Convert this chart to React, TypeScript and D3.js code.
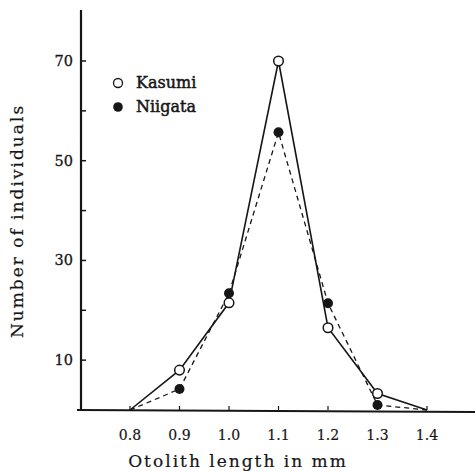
import * as d3 from "d3";

const lengths = [0.8, 0.9, 1.0, 1.1, 1.2, 1.3, 1.4];
const kasumi = [0, 8, 21.5, 70, 16.5, 3.3, 0];
const niigata = [0, 4.2, 23.4, 55.7, 21.4, 1, 0];
const xTickLabels = ["0.8", "0.9", "1.0", "1.1", "1.2", "1.3", "1.4"];
const yTicks = [10, 20, 30, 40, 50, 60, 70];
const yLabelled = [10, 30, 50, 70];

export default function App() {
  const width = 475;
  const height = 471;
  const ink = "#161616";

  const x = d3.scaleLinear().domain([0.8, 1.4]).range([130, 427]);
  const y = d3.scaleLinear().domain([0, 70]).range([410, 61]);

  const line = d3
    .line<number>()
    .x((_, i) => x(lengths[i]))
    .y((d) => y(d));

  const serif = "'DejaVu Serif', 'Liberation Serif', serif";

  return (
    <svg
      width={width}
      height={height}
      style={{ position: "absolute", left: 0, top: 0, background: "#fff" }}
      fontFamily={serif}
    >
      {/* axes */}
      <line x1={81} x2={81} y1={10} y2={y(0)} stroke={ink} strokeWidth={2.2} />
      <line x1={77} x2={475} y1={y(0)} y2={y(0) + 2} stroke={ink} strokeWidth={2.2} />

      {yTicks.map((t) => (
        <g key={t}>
          <line x1={81} x2={86} y1={y(t)} y2={y(t)} stroke={ink} strokeWidth={1.5} />
          {yLabelled.includes(t) && (
            <text x={73} y={y(t) + 5} textAnchor="end" fontSize={14.5} fill={ink} stroke={ink} strokeWidth={0.3}>
              {t}
            </text>
          )}
        </g>
      ))}

      {lengths.map((l, i) => (
        <g key={l}>
          <line x1={x(l)} x2={x(l)} y1={y(0)} y2={y(0) - 4} stroke={ink} strokeWidth={1.2} />
          <text x={x(l)} y={440} textAnchor="middle" fontSize={14} fill={ink} stroke={ink} strokeWidth={0.2}>
            {xTickLabels[i]}
          </text>
        </g>
      ))}

      {/* series */}
      <path d={line(niigata) ?? ""} fill="none" stroke={ink} strokeWidth={1.3} strokeDasharray="5,4" />
      <path d={line(kasumi) ?? ""} fill="none" stroke={ink} strokeWidth={1.6} />

      {niigata.map((v, i) =>
        i === 0 || i === lengths.length - 1 ? null : (
          <circle key={"n" + i} cx={x(lengths[i])} cy={y(v)} r={5} fill={ink} />
        )
      )}
      {kasumi.map((v, i) =>
        i === 0 || i === lengths.length - 1 ? null : (
          <circle key={"k" + i} cx={x(lengths[i])} cy={y(v)} r={4.8} fill="#fff" stroke={ink} strokeWidth={1.5} />
        )
      )}

      {/* legend */}
      <circle cx={118} cy={83} r={4.5} fill="#fff" stroke={ink} strokeWidth={1.3} />
      <text x={136} y={88} fontSize={16} fill={ink} stroke={ink} strokeWidth={0.5}>Kasumi</text>
      <circle cx={118} cy={107} r={4.8} fill={ink} />
      <text x={136} y={112} fontSize={16} fill={ink} stroke={ink} strokeWidth={0.5}>Niigata</text>

      {/* titles */}
      <text x={238} y={467} textAnchor="middle" fontSize={17} letterSpacing={2} fill={ink} stroke={ink} strokeWidth={0.2}>
        Otolith length in mm
      </text>
      <text
        transform="translate(23,221) rotate(-90)"
        textAnchor="middle"
        fontSize={17}
        letterSpacing={2}
        fill={ink}
        stroke={ink}
        strokeWidth={0.2}
      >
        Number of individuals
      </text>
    </svg>
  );
}
